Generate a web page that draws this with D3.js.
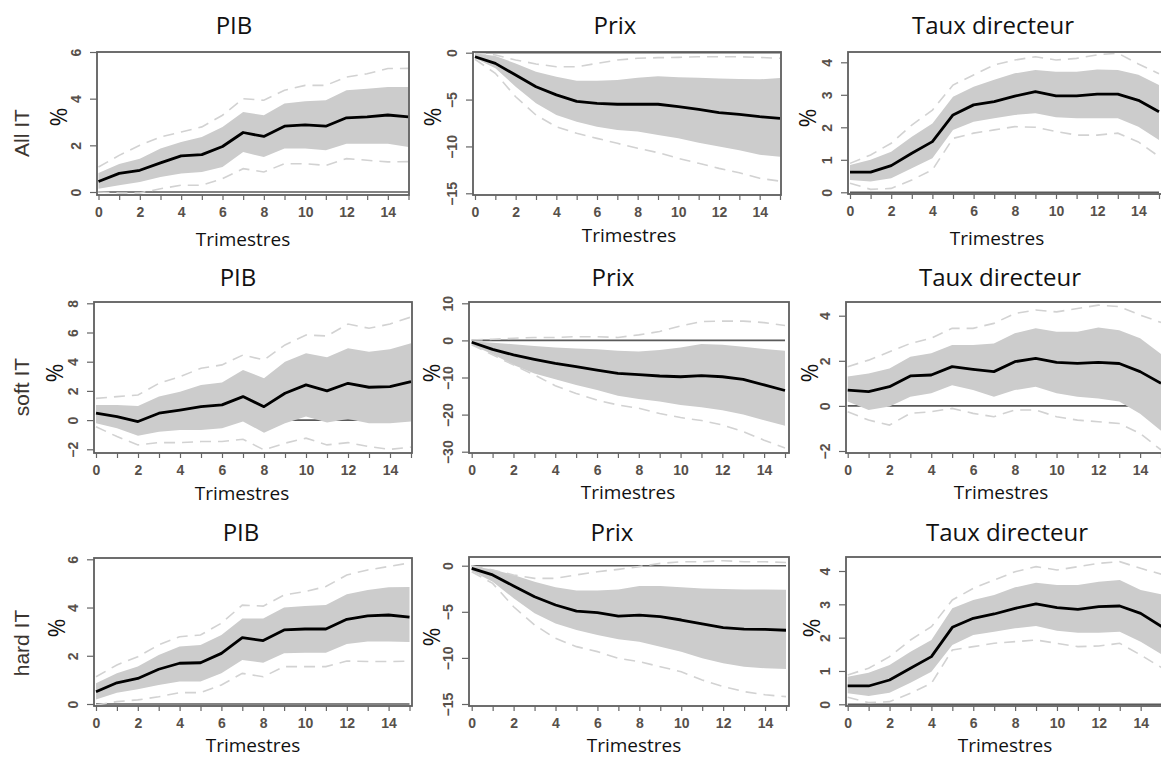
<!DOCTYPE html>
<html>
<head>
<meta charset="utf-8">
<script src="https://cdn.jsdelivr.net/npm/d3@7"></script>
<style>
  body { margin: 0; background: #fff; }
  .tick text { font-family: "Liberation Sans", Arial, sans-serif; font-weight: bold; font-size: 14px; fill: #57504a; }
  .tick line { stroke: #666; stroke-width: 1.2; }
  .title, .xlab, .pct { font-family: "Open Sans", sans-serif; fill: #111; }
  .rowlab { font-family: "Liberation Sans", Arial, sans-serif; fill: #3b3530; }
</style>
</head>
<body>
<svg id="chart" width="1161" height="757"></svg>
<script>
// ---- data ----
var trimestres = [0,1,2,3,4,5,6,7,8,9,10,11,12,13,14,15];
var xTickLabels = [0,2,4,6,8,10,12,14];
var rowLabels = ["All IT", "soft IT", "hard IT"];
var colTitles = ["PIB", "Prix", "Taux directeur"];

var yTicksPib = [0,2,4,6];
var yTicksPrix = [0,-5,-10,-15];
var yTicksTaux = [0,1,2,3,4];
var yTicksPibSoft = [-2,0,2,4,6,8];
var yTicksPrixSoft = [-30,-20,-10,0,10];
var yTicksTauxSoft = [-2,0,2,4];

// All IT
var allPibMed = [0.45,0.8,0.93,1.25,1.55,1.6,1.95,2.55,2.38,2.82,2.88,2.82,3.18,3.22,3.3,3.22];
var allPibLo  = [0.14,0.29,0.43,0.64,0.79,0.86,1.07,1.71,1.5,1.86,1.86,1.79,2.07,2.07,2.07,1.93];
var allPibHi  = [0.81,1.2,1.43,1.86,2.14,2.36,2.79,3.43,3.29,3.79,3.89,3.93,4.36,4.43,4.5,4.5];
var allPibDLo = [0.0,-0.04,-0.04,0.14,0.29,0.29,0.57,1.0,0.86,1.21,1.21,1.14,1.43,1.36,1.29,1.3];
var allPibDHi = [1.07,1.57,2.0,2.36,2.57,2.79,3.29,4.0,3.93,4.36,4.57,4.57,4.93,5.07,5.29,5.3];

var allPrixMed = [-0.43,-1.14,-2.38,-3.63,-4.5,-5.2,-5.4,-5.5,-5.5,-5.5,-5.76,-6.04,-6.4,-6.58,-6.83,-7.0];
var allPrixLo  = [-0.6,-1.67,-3.63,-5.4,-6.65,-7.36,-7.9,-8.25,-8.4,-8.78,-9.14,-9.6,-10.0,-10.4,-10.9,-11.1];
var allPrixHi  = [-0.07,-0.36,-1.14,-2.03,-2.56,-3.0,-3.0,-2.9,-2.67,-2.5,-2.63,-2.67,-2.74,-2.8,-2.84,-2.7];
var allPrixDLo = [-0.7,-2.2,-4.7,-6.65,-7.9,-8.6,-9.14,-9.67,-10.2,-10.66,-11.27,-11.8,-12.34,-12.8,-13.4,-13.7];
var allPrixDHi = [0,-0.25,-0.78,-1.2,-1.5,-1.5,-1.14,-0.78,-0.6,-0.53,-0.5,-0.43,-0.43,-0.43,-0.5,-0.6];

var allTauxMed = [0.62,0.62,0.82,1.2,1.56,2.38,2.69,2.79,2.96,3.1,2.97,2.97,3.02,3.02,2.83,2.48];
var allTauxLo  = [0.38,0.33,0.43,0.74,1.05,1.92,2.17,2.28,2.38,2.43,2.31,2.28,2.28,2.28,2.02,1.61];
var allTauxHi  = [0.84,1.0,1.25,1.71,2.12,2.94,3.25,3.46,3.66,3.76,3.71,3.71,3.78,3.76,3.62,3.3];
var allTauxDLo = [0.28,0.09,0.12,0.38,0.69,1.66,1.82,1.92,2.02,2.0,1.87,1.76,1.76,1.82,1.55,1.1];
var allTauxDHi = [0.89,1.15,1.51,2.07,2.53,3.3,3.61,3.92,4.07,4.17,4.07,4.12,4.23,4.28,3.95,3.65];

// soft IT
var softPibMed = [0.47,0.24,-0.1,0.47,0.69,0.92,1.04,1.61,0.92,1.84,2.41,2.0,2.52,2.25,2.29,2.63];
var softPibLo  = [-0.22,-0.56,-1.08,-0.79,-0.67,-0.67,-0.56,-0.1,-0.86,-0.22,0.24,-0.17,0.08,-0.22,-0.22,-0.1];
var softPibHi  = [1.04,1.04,0.97,1.61,1.95,2.41,2.57,3.44,2.86,4.0,4.58,4.3,4.92,4.69,4.85,5.26];
var softPibDLo = [-0.45,-1.13,-1.7,-1.54,-1.54,-1.47,-1.47,-1.31,-2.04,-1.58,-1.24,-1.7,-1.54,-1.82,-2.0,-1.85];
var softPibDHi = [1.49,1.61,1.72,2.52,2.98,3.55,3.78,4.46,4.12,5.15,5.83,5.76,6.58,6.29,6.58,7.06];

var softPrixMed = [-0.5,-2.4,-3.9,-5.1,-6.2,-7.1,-8.0,-8.9,-9.2,-9.6,-9.8,-9.5,-9.8,-10.5,-12.0,-13.5];
var softPrixLo  = [-1.25,-3.7,-6.6,-8.9,-10.5,-12.0,-13.4,-14.9,-15.8,-16.5,-17.4,-18.0,-18.8,-20.0,-21.5,-23.0];
var softPrixHi  = [-0.2,-0.6,-1.05,-1.5,-1.9,-2.2,-2.4,-2.8,-3.0,-2.6,-1.9,-1.0,-1.2,-1.7,-2.3,-2.8];
var softPrixDLo = [-1.2,-3.9,-6.6,-9.3,-12.2,-14.3,-16.1,-17.4,-18.3,-19.7,-20.8,-21.6,-22.8,-24.6,-26.9,-29.0];
var softPrixDHi = [0.1,0.3,0.6,0.8,0.8,1.0,1.0,0.8,1.5,2.4,3.9,5.1,5.2,5.2,4.8,4.0];

var softTauxMed = [0.7,0.63,0.85,1.33,1.37,1.74,1.62,1.52,1.96,2.11,1.93,1.89,1.93,1.88,1.52,1.0];
var softTauxLo  = [0.19,-0.18,-0.03,0.41,0.56,0.92,0.7,0.41,0.7,0.85,0.56,0.41,0.33,0.19,-0.35,-1.1];
var softTauxHi  = [1.3,1.44,1.66,2.18,2.33,2.7,2.7,2.77,3.22,3.44,3.29,3.29,3.48,3.36,3.0,2.3];
var softTauxDLo = [-0.26,-0.63,-0.85,-0.33,-0.26,-0.11,-0.33,-0.48,-0.18,-0.18,-0.48,-0.63,-0.7,-0.78,-1.22,-1.95];
var softTauxDHi = [1.74,2.03,2.4,2.77,3.0,3.44,3.44,3.66,4.1,4.25,4.17,4.32,4.47,4.4,4.03,3.7];

// hard IT
var hardPibMed = [0.51,0.88,1.06,1.44,1.69,1.71,2.1,2.75,2.63,3.07,3.11,3.11,3.51,3.65,3.69,3.6];
var hardPibLo  = [0.19,0.47,0.61,0.79,0.93,0.93,1.27,1.82,1.71,2.1,2.13,2.13,2.49,2.59,2.59,2.57];
var hardPibHi  = [0.86,1.27,1.55,2.03,2.38,2.45,2.86,3.55,3.55,4.0,4.06,4.1,4.55,4.73,4.84,4.85];
var hardPibDLo = [-0.04,0.1,0.17,0.3,0.47,0.47,0.79,1.27,1.13,1.55,1.55,1.55,1.78,1.76,1.76,1.78];
var hardPibDHi = [1.13,1.62,1.96,2.45,2.79,2.86,3.35,4.1,4.06,4.52,4.66,4.87,5.35,5.56,5.7,5.85];

var hardPrixMed = [-0.29,-1.0,-2.2,-3.36,-4.26,-4.92,-5.1,-5.46,-5.35,-5.53,-5.89,-6.32,-6.72,-6.87,-6.9,-7.0];
var hardPrixLo  = [-0.58,-1.73,-3.54,-5.17,-6.27,-6.98,-7.52,-7.99,-8.24,-8.78,-9.32,-10.05,-10.59,-10.95,-11.13,-11.2];
var hardPrixHi  = [-0.04,-0.4,-1.0,-1.73,-2.35,-2.7,-2.7,-2.57,-2.2,-2.2,-2.35,-2.46,-2.53,-2.57,-2.57,-2.6];
var hardPrixDLo = [-0.65,-1.92,-4.45,-6.43,-7.88,-8.78,-9.32,-10.05,-10.41,-10.95,-11.5,-12.4,-13.1,-13.66,-14.0,-14.2];
var hardPrixDHi = [0,-0.47,-1.0,-1.37,-1.37,-1.0,-0.65,-0.4,-0.1,0.25,0.43,0.43,0.54,0.43,0.43,0.35];

var hardTauxMed = [0.55,0.55,0.73,1.08,1.43,2.31,2.58,2.71,2.88,3.01,2.9,2.85,2.93,2.95,2.73,2.33];
var hardTauxLo  = [0.33,0.25,0.35,0.65,0.98,1.78,2.08,2.18,2.28,2.35,2.21,2.15,2.15,2.18,1.88,1.5];
var hardTauxHi  = [0.83,0.95,1.18,1.58,1.93,2.88,3.13,3.28,3.51,3.65,3.58,3.58,3.68,3.73,3.43,3.3];
var hardTauxDLo = [0.21,0.05,0.08,0.33,0.63,1.63,1.73,1.83,1.88,1.93,1.83,1.73,1.75,1.83,1.48,1.1];
var hardTauxDHi = [0.88,1.08,1.43,1.93,2.33,3.13,3.48,3.73,3.98,4.13,4.03,4.13,4.23,4.28,4.08,3.9];

// ---- layout (pixel boxes of each small plot) ----
// box: [left, top, right, bottom]; xr: pixel of t=0 and t=15; ym: [v1, px1, v2, px2]
var panels = [
  { row: 0, col: 0, med: allPibMed, lo: allPibLo, hi: allPibHi, dlo: allPibDLo, dhi: allPibDHi, yTicks: yTicksPib,
    box: [97, 52, 409, 195], xr: [98.5, 408.5], ym: [0, 192, 6, 52], title: [234, 34], xlab: [243, 246], pct: [59, 117] },
  { row: 0, col: 1, med: allPrixMed, lo: allPrixLo, hi: allPrixHi, dlo: allPrixDLo, dhi: allPrixDHi, yTicks: yTicksPrix,
    box: [473, 52, 781, 195], xr: [475, 780], ym: [0, 52.7, -15, 193.3], title: [615, 34], xlab: [629, 242], pct: [433, 117] },
  { row: 0, col: 2, med: allTauxMed, lo: allTauxLo, hi: allTauxHi, dlo: allTauxDLo, dhi: allTauxDHi, yTicks: yTicksTaux,
    box: [848, 52, 1162, 194], xr: [850, 1159], ym: [0, 192.3, 4, 62.3], title: [993, 34], xlab: [997, 245], pct: [808, 118] },
  { row: 1, col: 0, med: softPibMed, lo: softPibLo, hi: softPibHi, dlo: softPibDLo, dhi: softPibDHi, yTicks: yTicksPibSoft,
    box: [94, 302, 412, 453], xr: [96, 411], ym: [8, 303.3, -2, 449.3], title: [238, 286], xlab: [242, 500], pct: [55, 373] },
  { row: 1, col: 1, med: softPrixMed, lo: softPrixLo, hi: softPrixHi, dlo: softPrixDLo, dhi: softPrixDHi, yTicks: yTicksPrixSoft,
    box: [469, 302, 789, 453], xr: [471.7, 785], ym: [10, 303.3, -30, 451.7], title: [613, 286], xlab: [628, 499], pct: [432, 373] },
  { row: 1, col: 2, med: softTauxMed, lo: softTauxLo, hi: softTauxHi, dlo: softTauxDLo, dhi: softTauxDHi, yTicks: yTicksTauxSoft,
    box: [846, 302, 1162, 453], xr: [847.7, 1161], ym: [4, 315.7, -2, 451], title: [1000, 286], xlab: [1001, 499], pct: [810, 373] },
  { row: 2, col: 0, med: hardPibMed, lo: hardPibLo, hi: hardPibHi, dlo: hardPibDLo, dhi: hardPibDHi, yTicks: yTicksPib,
    box: [94, 558, 412, 706], xr: [96, 409.5], ym: [6, 559.3, 0, 704], title: [241, 541], xlab: [253, 752], pct: [57, 628] },
  { row: 2, col: 1, med: hardPrixMed, lo: hardPrixLo, hi: hardPrixHi, dlo: hardPrixDLo, dhi: hardPrixDHi, yTicks: yTicksPrix,
    box: [469, 557, 789, 706], xr: [471.7, 786], ym: [0, 565.7, -15, 704], title: [612, 541], xlab: [634, 752], pct: [432, 637] },
  { row: 2, col: 2, med: hardTauxMed, lo: hardTauxLo, hi: hardTauxHi, dlo: hardTauxDLo, dhi: hardTauxDHi, yTicks: yTicksTaux,
    box: [846, 557, 1162, 706], xr: [847.7, 1161.6], ym: [4, 571, 0, 704.3], title: [1007, 541], xlab: [1005, 752], pct: [812, 628] }
];
var rowLabelPos = [[22, 133], [22, 387], [22, 643]];

var svg = d3.select("#chart");

rowLabels.forEach(function(lab, i) {
  svg.append("text").attr("class", "rowlab")
    .attr("transform", "translate(" + (rowLabelPos[i][0] + 7) + "," + rowLabelPos[i][1] + ") rotate(-90)")
    .attr("text-anchor", "middle")
    .style("font-size", "21px")
    .text(lab);
});

panels.forEach(function(p, i) {
  var b = p.box;
  var x = d3.scaleLinear().domain([0, 15]).range(p.xr);
  var y = d3.scaleLinear().domain([p.ym[0], p.ym[2]]).range([p.ym[1], p.ym[3]]);

  var g = svg.append("g");
  var clipId = "clip" + i;
  g.append("clipPath").attr("id", clipId)
    .append("rect").attr("x", b[0]).attr("y", b[1]).attr("width", b[2] - b[0]).attr("height", b[3] - b[1]);

  var plot = g.append("g").attr("clip-path", "url(#" + clipId + ")");

  // zero line first, the band covers it where it crosses
  plot.append("line")
    .attr("x1", x(0)).attr("x2", x(15))
    .attr("y1", y(0)).attr("y2", y(0))
    .attr("stroke", "#5a5a5a").attr("stroke-width", 1.6);

  var band = d3.area()
    .x(function(d) { return x(d); })
    .y0(function(d) { return y(p.lo[d]); })
    .y1(function(d) { return y(p.hi[d]); });
  plot.append("path").attr("d", band(trimestres)).attr("fill", "#cccccc");

  var lineOf = function(arr) {
    return d3.line().x(function(d) { return x(d); }).y(function(d) { return y(arr[d]); })(trimestres);
  };
  [p.dlo, p.dhi].forEach(function(arr) {
    plot.append("path").attr("d", lineOf(arr))
      .attr("fill", "none").attr("stroke", "#d2d2d2")
      .attr("stroke-width", 1.6).attr("stroke-dasharray", "11,7");
  });
  plot.append("path").attr("d", lineOf(p.med))
    .attr("fill", "none").attr("stroke", "#000").attr("stroke-width", 2.8)
    .attr("stroke-linejoin", "round");

  // frame
  g.append("rect").attr("x", b[0]).attr("y", b[1]).attr("width", b[2] - b[0]).attr("height", b[3] - b[1])
    .attr("fill", "none").attr("stroke", "#5e5e5e").attr("stroke-width", 1.8);

  // x axis
  var xa = g.append("g").attr("transform", "translate(0," + b[3] + ")")
    .call(d3.axisBottom(x).tickValues(trimestres).tickSize(5)
      .tickFormat(function(d) { return xTickLabels.indexOf(d) >= 0 ? d : ""; }));
  xa.select(".domain").remove();
  xa.selectAll(".tick text").attr("y", 12);

  // y axis, labels turned like R's default
  var ya = g.append("g").attr("transform", "translate(" + b[0] + ",0)")
    .call(d3.axisLeft(y).tickValues(p.yTicks).tickSize(7).tickFormat(d3.format("d")));
  ya.select(".domain").remove();
  ya.selectAll(".tick text")
    .attr("x", 0).attr("dy", "0.35em")
    .attr("text-anchor", "middle")
    .attr("transform", "translate(-21,0) rotate(-90)");

  // texts
  svg.append("text").attr("class", "title")
    .attr("x", p.title[0]).attr("y", p.title[1])
    .attr("text-anchor", "middle").style("font-size", "24px")
    .text(colTitles[p.col]);
  svg.append("text").attr("class", "xlab")
    .attr("x", p.xlab[0]).attr("y", p.xlab[1])
    .attr("text-anchor", "middle").style("font-size", "19px")
    .text("Trimestres");
  svg.append("text").attr("class", "pct")
    .attr("transform", "translate(" + (p.pct[0] + 8) + "," + p.pct[1] + ") rotate(-90)")
    .attr("text-anchor", "middle").style("font-size", "23px")
    .text("%");
});
</script>
</body>
</html>
